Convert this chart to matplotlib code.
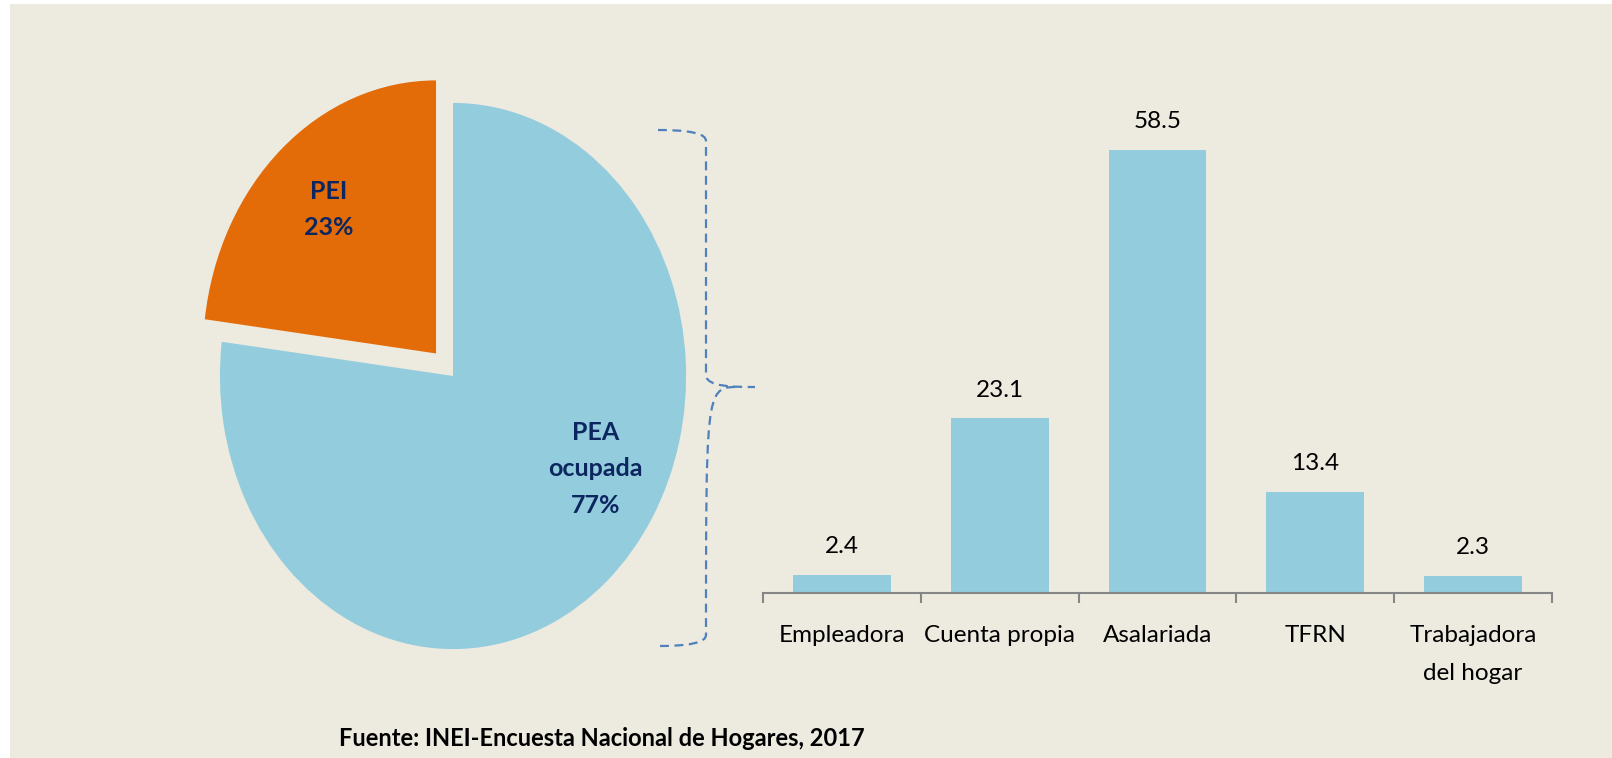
import numpy as np
import matplotlib.pyplot as plt
from matplotlib.patches import Rectangle, PathPatch
from matplotlib.path import Path

# pie data
pie_labels = ['PEA\nocupada\n77%', 'PEI\n23%']
pie_values = [77, 23]
# bar data
categories = ['Empleadora', 'Cuenta propia', 'Asalariada', 'TFRN', 'Trabajadora\ndel hogar']
shares = [2.4, 23.1, 58.5, 13.4, 2.3]

BLUE = '#93CDDD'
ORANGE = '#E36C09'
NAVY = '#0C2660'
BG = '#EDEADF'
plt.rcParams['font.family'] = ['Lato', 'DejaVu Sans']

W, H = 1612, 758
fig = plt.figure(figsize=(W / 100, H / 100), dpi=100, facecolor='white')
fig.patches.append(Rectangle((10 / W, 0), 1, 1 - 4 / H, transform=fig.transFigure,
                             facecolor=BG, edgecolor='none', zorder=-10))

# pie (stretched vertically like the original)
ax1 = fig.add_axes([150 / W, 27 / H, 606 / W, 710 / H])
ax1.pie(pie_values, colors=[BLUE, ORANGE], startangle=90, counterclock=False,
        explode=[0, 0.11], wedgeprops=dict(linewidth=0))
ax1.set_aspect('auto')
ax1.set_xlim(-1.3, 1.3)
ax1.set_ylim(-1.3, 1.3)
ax1.axis('off')
ax1.text(0.61, -0.34, pie_labels[0], ha='center', va='center', fontsize=18,
         fontweight='bold', color=NAVY, linespacing=1.7)
ax1.text(-0.535, 0.61, pie_labels[1], ha='center', va='center', fontsize=18,
         fontweight='bold', color=NAVY, linespacing=1.7)

# curly brace linking the pie to the bars
axb = fig.add_axes([0, 0, 1, 1])
axb.set_xlim(0, W)
axb.set_ylim(H, 0)
axb.axis('off')
xs, xc, xt = 658, 706, 755
y0, ym, y1 = 130, 387, 646
verts = [(xs, y0), (xc, y0), (xc, y0 + 8), (xc, y0 + 12),
         (xc, ym - 12),
         (xc, ym), (xt - 20, ym), (xt, ym),
         (xt - 20, ym), (xc, ym), (xc, ym + 12),
         (xc, y1 - 12), (xc, y1 - 8), (xc, y1), (xs, y1)]
codes = [Path.MOVETO, Path.CURVE4, Path.CURVE4, Path.CURVE4,
         Path.LINETO,
         Path.CURVE4, Path.CURVE4, Path.CURVE4,
         Path.MOVETO, Path.CURVE4, Path.CURVE4,
         Path.LINETO, Path.CURVE4, Path.CURVE4, Path.CURVE4]
axb.add_patch(PathPatch(Path(verts, codes), fill=False, edgecolor='#4F81BD',
                        linewidth=1.6, linestyle=(0, (4, 2.5))))

# bars
ax2 = fig.add_axes([763 / W, 165 / H, 789 / W, 493 / H])
ax2.set_facecolor('none')
x = np.arange(len(categories))
bars = ax2.bar(x, shares, width=0.62, color=BLUE)
for b, v in zip(bars, shares):
    ax2.annotate(f'{v:.1f}', (b.get_x() + b.get_width() / 2, v), xytext=(0, 15.5),
                 textcoords='offset points', ha='center', va='baseline', fontsize=17.5)
ax2.set_xlim(-0.5, len(categories) - 0.5)
ax2.set_ylim(0, 65.1)
for s in ['top', 'right', 'left']:
    ax2.spines[s].set_visible(False)
ax2.spines['bottom'].set_color('#868686')
ax2.spines['bottom'].set_linewidth(1.5)
ax2.set_yticks([])
ax2.set_xticks(x)
ax2.set_xticklabels(categories, fontsize=17.5, linespacing=2.0)
ax2.tick_params(axis='x', which='major', length=0, pad=23)
ax2.set_xticks(np.arange(-0.5, len(categories)), minor=True)
ax2.tick_params(axis='x', which='minor', length=7, width=1.5, color='#868686')

fig.text(339 / W, 1 - 738 / H, 'Fuente: INEI-Encuesta Nacional de Hogares, 2017',
         fontsize=17, fontweight='bold', va='center', ha='left')

fig.savefig('out.png', dpi=100, facecolor=fig.get_facecolor())
